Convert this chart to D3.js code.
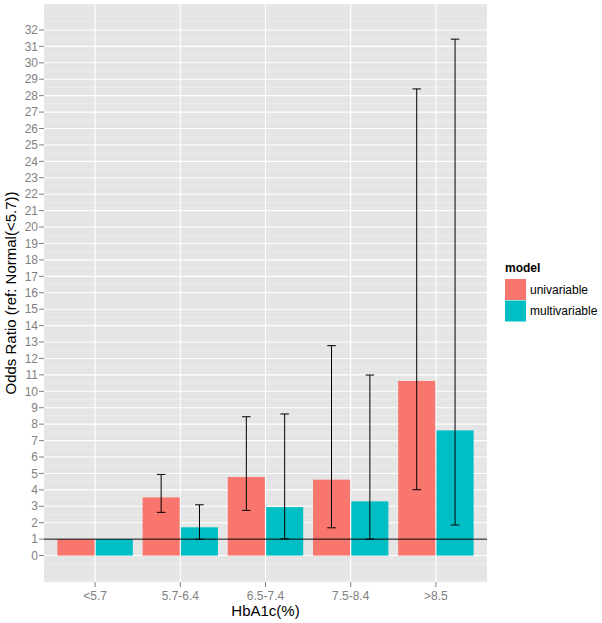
<!DOCTYPE html>
<html>
<head>
<meta charset="utf-8">
<script src="https://cdn.jsdelivr.net/npm/d3@7"></script>
<style>
  html, body { margin: 0; padding: 0; background: #fff; }
  svg { display: block; font-family: "Liberation Sans", Arial, sans-serif; }
</style>
</head>
<body>
<script>
const categories = ["<5.7", "5.7-6.4", "6.5-7.4", "7.5-8.4", ">8.5"];
const models = ["univariable", "multivariable"];
const univariableOR = [1, 3.54, 4.78, 4.62, 10.63];
const univariableLower = [1, 2.63, 2.75, 1.69, 4.01];
const univariableUpper = [1, 4.94, 8.45, 12.78, 28.41];
const multivariableOR = [1, 1.72, 2.95, 3.30, 7.62];
const multivariableLower = [1, 0.99, 1.02, 1.00, 1.86];
const multivariableUpper = [1, 3.09, 8.62, 10.99, 31.44];
const yTicks = d3.range(0, 33);
const colors = ["#F8766D", "#00BFC4"];
const refLine = 1;

const W = 602, H = 623;
const panel = { left: 44, right: 487, top: 4, bottom: 582 };

const svg = d3.select("body").append("svg").attr("width", W).attr("height", H);

// ggplot discrete expansion: 0.6 units each side -> unit = width/5.2
const unit = (panel.right - panel.left) / 5.2;
const x = d3.scalePoint().domain(categories)
  .range([panel.left + 0.6 * unit, panel.right - 0.6 * unit]);
const cx = c => x(c);

const y = d3.scaleLinear().domain([-1.61, 33.58]).range([panel.bottom, panel.top]);

// panel background
svg.append("rect").attr("x", panel.left).attr("y", panel.top)
  .attr("width", panel.right - panel.left).attr("height", panel.bottom - panel.top)
  .attr("fill", "#E5E5E5");

// minor grid
const minor = d3.range(-1.5, 33.6, 1);
svg.append("g").selectAll("line").data(minor).join("line")
  .attr("x1", panel.left).attr("x2", panel.right)
  .attr("y1", d => y(d)).attr("y2", d => y(d))
  .attr("stroke", "#F2F2F2").attr("stroke-width", 0.6);
// major grid
svg.append("g").selectAll("line").data(yTicks).join("line")
  .attr("x1", panel.left).attr("x2", panel.right)
  .attr("y1", d => y(d)).attr("y2", d => y(d))
  .attr("stroke", "#FFFFFF").attr("stroke-width", 1.1);
svg.append("g").selectAll("line").data(categories).join("line")
  .attr("x1", d => cx(d)).attr("x2", d => cx(d))
  .attr("y1", panel.top).attr("y2", panel.bottom)
  .attr("stroke", "#FFFFFF").attr("stroke-width", 1.1);

// bars
const rows = [];
categories.forEach((c, i) => {
  rows.push({ c, m: 0, v: univariableOR[i], lo: univariableLower[i], hi: univariableUpper[i] });
  rows.push({ c, m: 1, v: multivariableOR[i], lo: multivariableLower[i], hi: multivariableUpper[i] });
});
const dodge = 0.225 * unit;
const barW = 0.435 * unit;
const bx = r => cx(r.c) + (r.m === 0 ? -dodge : dodge);

svg.append("g").selectAll("rect").data(rows).join("rect")
  .attr("x", r => bx(r) - barW / 2).attr("width", barW)
  .attr("y", r => y(r.v)).attr("height", r => y(0) - y(r.v))
  .attr("fill", r => colors[r.m]);

// error bars
const wh = 0.05 * unit;
const eb = svg.append("g").attr("stroke", "#000").attr("stroke-width", 1);
rows.filter(r => r.hi > r.lo).forEach(r => {
  const xc = bx(r);
  eb.append("line").attr("x1", xc).attr("x2", xc).attr("y1", y(r.lo)).attr("y2", y(r.hi));
  eb.append("line").attr("x1", xc - wh).attr("x2", xc + wh).attr("y1", y(r.lo)).attr("y2", y(r.lo));
  eb.append("line").attr("x1", xc - wh).attr("x2", xc + wh).attr("y1", y(r.hi)).attr("y2", y(r.hi));
});

// reference line
svg.append("line").attr("x1", panel.left).attr("x2", panel.right)
  .attr("y1", y(refLine)).attr("y2", y(refLine))
  .attr("stroke", "#000").attr("stroke-width", 1);

// y axis
const ya = svg.append("g");
ya.selectAll("line").data(yTicks).join("line")
  .attr("x1", panel.left - 5).attr("x2", panel.left)
  .attr("y1", d => y(d)).attr("y2", d => y(d))
  .attr("stroke", "#7F7F7F").attr("stroke-width", 1);
ya.selectAll("text").data(yTicks).join("text")
  .attr("x", panel.left - 6).attr("y", d => y(d)).attr("dy", "0.35em")
  .attr("text-anchor", "end").attr("font-size", 12).attr("fill", "#7F7F7F")
  .text(d => d);

// x axis
const xa = svg.append("g");
xa.selectAll("line").data(categories).join("line")
  .attr("x1", d => cx(d)).attr("x2", d => cx(d))
  .attr("y1", panel.bottom).attr("y2", panel.bottom + 5)
  .attr("stroke", "#7F7F7F").attr("stroke-width", 1);
xa.selectAll("text").data(categories).join("text")
  .attr("x", d => cx(d)).attr("y", panel.bottom + 14).attr("dy", "0.35em")
  .attr("text-anchor", "middle").attr("font-size", 12).attr("fill", "#7F7F7F")
  .text(d => d);

// axis titles
svg.append("text").attr("x", (panel.left + panel.right) / 2).attr("y", 611).attr("dy", "0.35em")
  .attr("text-anchor", "middle").attr("font-size", 15).attr("fill", "#000")
  .text("HbA1c(%)");
svg.append("text").attr("transform", `translate(11,${(panel.top + panel.bottom) / 2}) rotate(-90)`)
  .attr("dy", "0.35em").attr("text-anchor", "middle").attr("font-size", 15).attr("fill", "#000")
  .text("Odds Ratio (ref: Normal(<5.7))");

// legend
const lg = svg.append("g");
lg.append("text").attr("x", 505).attr("y", 268).attr("dy", "0.35em")
  .attr("font-size", 12).attr("font-weight", "bold").attr("fill", "#000").text("model");
models.forEach((m, i) => {
  lg.append("rect").attr("x", 505).attr("y", 279 + i * 21.5).attr("width", 21).attr("height", 21)
    .attr("fill", colors[i]);
  lg.append("text").attr("x", 530).attr("y", 289.5 + i * 21.5).attr("dy", "0.35em")
    .attr("font-size", 12).attr("fill", "#000").text(m);
});
</script>
</body>
</html>
